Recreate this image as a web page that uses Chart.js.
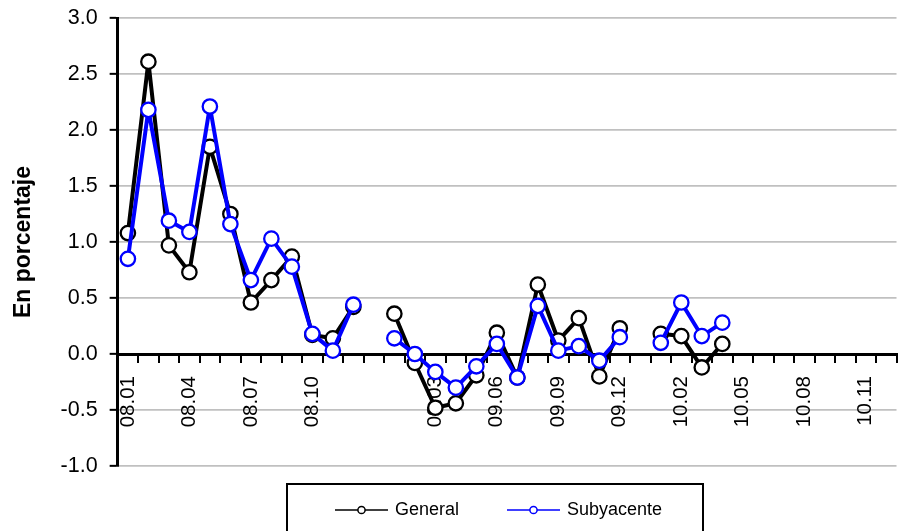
<!DOCTYPE html>
<html>
<head>
<meta charset="utf-8">
<script src="https://cdn.jsdelivr.net/npm/chart.js@4/dist/chart.umd.min.js"></script>
<style>
  body { margin: 0; background: #fff; }
  #grafico { display: block; }
</style>
</head>
<body>
<canvas id="grafico" width="906" height="531"></canvas>
<script>
// meses (con un hueco entre cada año)
const meses = ['08.01', '08.02', '08.03', '08.04', '08.05', '08.06', '08.07', '08.08', '08.09', '08.10', '08.11', '08.12', '',
               '09.01', '09.02', '09.03', '09.04', '09.05', '09.06', '09.07', '09.08', '09.09', '09.10', '09.11', '09.12', '',
               '10.01', '10.02', '10.03', '10.04', '10.05', '10.06', '10.07', '10.08', '10.09', '10.10', '10.11', '10.12'];

const etiquetasX = ['08.01', '08.04', '08.07', '08.10', '09.03', '09.06', '09.09', '09.12', '10.02', '10.05', '10.08', '10.11'];

const general = [1.08, 2.61, 0.97, 0.73, 1.85, 1.25, 0.46, 0.66, 0.87, 0.17, 0.14, 0.42, null,
                 0.36, -0.08, -0.48, -0.44, -0.19, 0.19, -0.21, 0.62, 0.12, 0.32, -0.20, 0.23, null,
                 0.18, 0.16, -0.12, 0.09];

const subyacente = [0.85, 2.18, 1.19, 1.09, 2.21, 1.16, 0.66, 1.03, 0.78, 0.18, 0.03, 0.44, null,
                    0.14, 0.00, -0.16, -0.30, -0.11, 0.09, -0.21, 0.43, 0.03, 0.07, -0.06, 0.15, null,
                    0.10, 0.46, 0.16, 0.28];

const fuente = '"Liberation Sans", Arial, sans-serif';

// leyenda con recuadro, como en el original
const leyendaCaja = {
  id: 'leyendaCaja',
  afterDraw(chart) {
    const ctx = chart.ctx;
    const yl = 510;
    ctx.save();
    ctx.lineWidth = 2;
    ctx.strokeStyle = '#000';
    ctx.strokeRect(287, 484, 416, 60);
    let x = 335;
    chart.data.datasets.slice().sort((a, b) => a.orden - b.orden).forEach(ds => {
      ctx.strokeStyle = ds.borderColor;
      ctx.lineWidth = 1.5;
      ctx.beginPath();
      ctx.moveTo(x, yl);
      ctx.lineTo(x + 53, yl);
      ctx.stroke();
      ctx.beginPath();
      ctx.arc(x + 26.5, yl, 3.6, 0, 2 * Math.PI);
      ctx.fillStyle = '#fff';
      ctx.fill();
      ctx.stroke();
      ctx.fillStyle = '#000';
      ctx.font = '18px ' + fuente;
      ctx.textBaseline = 'middle';
      ctx.textAlign = 'left';
      ctx.fillText(ds.label, x + 60, yl);
      x += 172;
    });
    ctx.restore();
  }
};

const ctx = document.getElementById('grafico').getContext('2d');
const grafico = new Chart(ctx, {
  type: 'line',
  data: {
    labels: meses,
    datasets: [{
      label: 'General',
      orden: 0,
      order: 1,
      data: general,
      borderColor: '#000000',
      borderWidth: 4,
      borderJoinStyle: 'round',
      pointRadius: 7.2,
      pointBorderWidth: 2.3,
      pointBackgroundColor: '#ffffff',
      pointBorderColor: '#000000',
      tension: 0
    }, {
      label: 'Subyacente',
      orden: 1,
      order: 0,
      data: subyacente,
      borderColor: '#0000ff',
      borderWidth: 4,
      borderJoinStyle: 'round',
      pointRadius: 7.2,
      pointBorderWidth: 2.3,
      pointBackgroundColor: '#ffffff',
      pointBorderColor: '#0000ff',
      tension: 0
    }]
  },
  options: {
    responsive: false,
    animation: false,
    layout: { padding: { left: 6, right: 6, top: 0, bottom: 65 } },
    plugins: {
      legend: { display: false },
      tooltip: { enabled: false }
    },
    scales: {
      x: {
        type: 'category',
        position: { y: 0 },
        offset: true,
        afterFit: function (eje) {
          eje.paddingLeft = 0;
          eje.paddingRight = 0;
          eje.paddingTop = 0;
          eje.paddingBottom = 0;
        },
        grid: {
          offset: true,
          drawOnChartArea: false,
          drawTicks: true,
          tickLength: 7,
          color: '#000',
          lineWidth: 2
        },
        border: { display: true, color: '#000', width: 3 },
        ticks: {
          autoSkip: false,
          maxRotation: 90,
          minRotation: 90,
          padding: 15,
          color: '#000',
          font: { family: fuente, size: 20.5 },
          callback: function (val, i) {
            const m = meses[i];
            return etiquetasX.includes(m) ? m : '';
          }
        }
      },
      y: {
        min: -1,
        max: 3,
        afterFit: function (eje) {
          eje.paddingTop = 18;
          eje.paddingBottom = 0;
        },
        grid: {
          color: '#c0c0c0',
          lineWidth: 1.7,
          tickColor: '#000',
          tickLength: 8,
          tickWidth: 2
        },
        border: { display: true, color: '#000', width: 3 },
        ticks: {
          stepSize: 0.5,
          padding: 12,
          color: '#000',
          font: { family: fuente, size: 21.5 },
          callback: v => v.toFixed(1)
        },
        title: {
          display: true,
          text: 'En porcentaje',
          color: '#000',
          font: { family: fuente, size: 23, weight: 'bold' },
          padding: { top: 4, bottom: 11 }
        }
      }
    }
  },
  plugins: [leyendaCaja]
});
</script>
</body>
</html>
